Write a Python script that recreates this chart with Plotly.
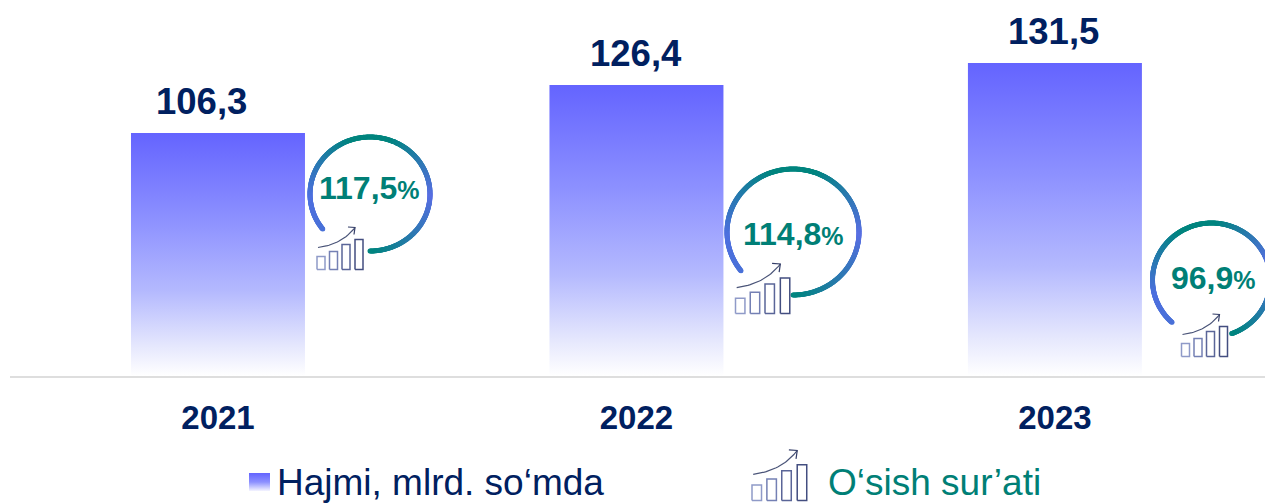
import numpy as np
import plotly.graph_objects as go

years = ["2021", "2022", "2023"]
value_labels = ["106,3", "126,4", "131,5"]
# drawn bar heights (the reference's bars are not strictly proportional to labels)
bar_heights = [105.9, 126.8, 136.4]
growth_labels = ["117,5", "114,8", "96,9"]
legend_labels = ["Hajmi, mlrd. so‘mda", "O‘sish sur’ati"]

NAVY = "#002060"
TEAL = "#007f76"
FONT = "Liberation Sans, Arial, sans-serif"
W, H = 1265, 503
BAR_W = 174 / 418.5
GRAD = [[0, "#ffffff"], [0.12, "#e6e8fd"], [0.35, "#b4b9fe"], [0.65, "#8c90ff"], [1, "#6464ff"]]

fig = go.Figure()

for i, h in enumerate(bar_heights):
    fig.add_trace(go.Scatter(
        x=[i - BAR_W / 2, i + BAR_W / 2, i + BAR_W / 2, i - BAR_W / 2, i - BAR_W / 2],
        y=[0, 0, h, h, 0], mode="lines", line=dict(width=0), fill="toself",
        fillgradient=dict(type="vertical", colorscale=GRAD), hoverinfo="skip",
        showlegend=False, xaxis="x", yaxis="y"))


def over(**k):
    fig.add_trace(go.Scatter(xaxis="x2", yaxis="y2", showlegend=False, hoverinfo="skip", **k))


def mix(stops, t):
    ts = [s[0] for s in stops]
    rgb = np.array([[int(s[1][j:j + 2], 16) for j in (1, 3, 5)] for s in stops], float)
    return "rgb(%d,%d,%d)" % tuple(np.interp(t, ts, rgb[:, c]) for c in range(3))


RING = [(0, "#4a72d8"), (0.12, "#4f70e0"), (0.36, "#00857f"), (0.48, "#00857f"), (0.72, "#5a6fe4"), (1, "#00857f")]


def ring(cx, cy, rx, ry, a0, a1):
    ts = np.linspace(0, 1, 500)
    a = np.radians(a0 + (a1 - a0) * ts)
    over(x=cx + rx * np.sin(a), y=cy - ry * np.cos(a), mode="markers",
         marker=dict(size=5, color=[mix(RING, t) for t in ts], line=dict(width=0)))


def icon(x0, y0, s):
    """x0,y0 = bottom-left of the pictogram, s = scale"""
    cols = ["#8f9ac8", "#7480b4", "#5a6598", "#434e80"]
    for k, (dx, hh) in enumerate([(0, 13), (12.5, 18), (25, 25), (38, 30)]):
        l, r, t = x0 + dx * s, x0 + (dx + 8) * s, y0 - hh * s
        over(x=[l, r, r, l, l], y=[y0, y0, t, t, y0], mode="lines",
             line=dict(color=cols[k], width=1.5))
    u = np.linspace(0, 1, 30)
    ax = x0 + s * (1 + 2 * (1 - u) * u * 24 + u * u * 37)
    ay = y0 - s * (22 + 2 * (1 - u) * u * 3 + u * u * 20)
    over(x=ax, y=ay, mode="lines", line=dict(color="#4a5478", width=1.2))
    ex, ey = ax[-1], ay[-1]
    over(x=[ex - 7 * s, ex, ex - 1 * s], y=[ey - 0.5 * s, ey, ey + 7 * s], mode="lines",
         line=dict(color="#343e68", width=1.2))


ring(370, 194, 60, 57, 232, 540)
ring(793, 232, 66, 63, 232, 540)
ring(1211.5, 280, 59, 57, 222, 520)
icon(317, 269.5, 1.0)
icon(735.5, 313.5, 1.18)
icon(1181.5, 356.5, 1.0)

# legend swatch
over(x=[249, 270, 270, 249, 249], y=[491, 491, 473, 473, 491], mode="lines", line=dict(width=0),
     fill="toself", fillgradient=dict(type="vertical", colorscale=[[0, "#f4f4ff"], [0.5, "#8c90ff"], [1, "#6464ff"]]))
icon(752, 500.5, 1.19)


def text(x, y, t, size, color, bold=True, anchor="center"):
    fig.add_annotation(x=x, y=y, xref="x2", yref="y2", text=f"<b>{t}</b>" if bold else t, showarrow=False,
                       xanchor=anchor, yanchor="middle", font=dict(family=FONT, size=size, color=color))


for i, (lab, h, dx) in enumerate(zip(value_labels, bar_heights, [-16, 0, -1])):
    fig.add_annotation(x=i, y=h, xref="x", yref="y", text=f"<b>{lab}</b>", showarrow=False,
                       yanchor="middle", yshift=31, xshift=dx, font=dict(family=FONT, size=36.5, color=NAVY))

for (cx, cy), lab in zip([(369.5, 188), (793, 234), (1213.5, 278)], growth_labels):
    text(cx, cy, f'{lab}<span style="font-size:25px">%</span>', 32, TEAL)

text(275, 482, legend_labels[0], 37, NAVY, bold=False, anchor="left")
text(826, 482, legend_labels[1], 37, TEAL, bold=False, anchor="left")

fig.update_layout(
    width=W, height=H, autosize=False, margin=dict(l=0, r=0, t=0, b=0),
    paper_bgcolor="white", plot_bgcolor="rgba(0,0,0,0)", showlegend=False,
    xaxis=dict(domain=[10 / W, 1], range=[-0.497, 2.502], tickmode="array", tickvals=[0, 1, 2], ticktext=years,
               showgrid=False, zeroline=False, showline=True, linecolor="#dedede", linewidth=2, ticks="",
               ticklabelstandoff=11, tickfont=dict(family=FONT, size=33, color=NAVY, weight="bold")),
    yaxis=dict(domain=[127 / H, 1], range=[0, 376 / 2.295], visible=False),
    xaxis2=dict(domain=[0, 1], range=[0, W], visible=False, anchor="y2"),
    yaxis2=dict(domain=[0, 1], range=[H, 0], visible=False, anchor="x2"),
)
fig.write_html("out.html", config={"displayModeBar": False},
               post_script="document.body.style.margin='0';document.documentElement.style.overflow='hidden';")
